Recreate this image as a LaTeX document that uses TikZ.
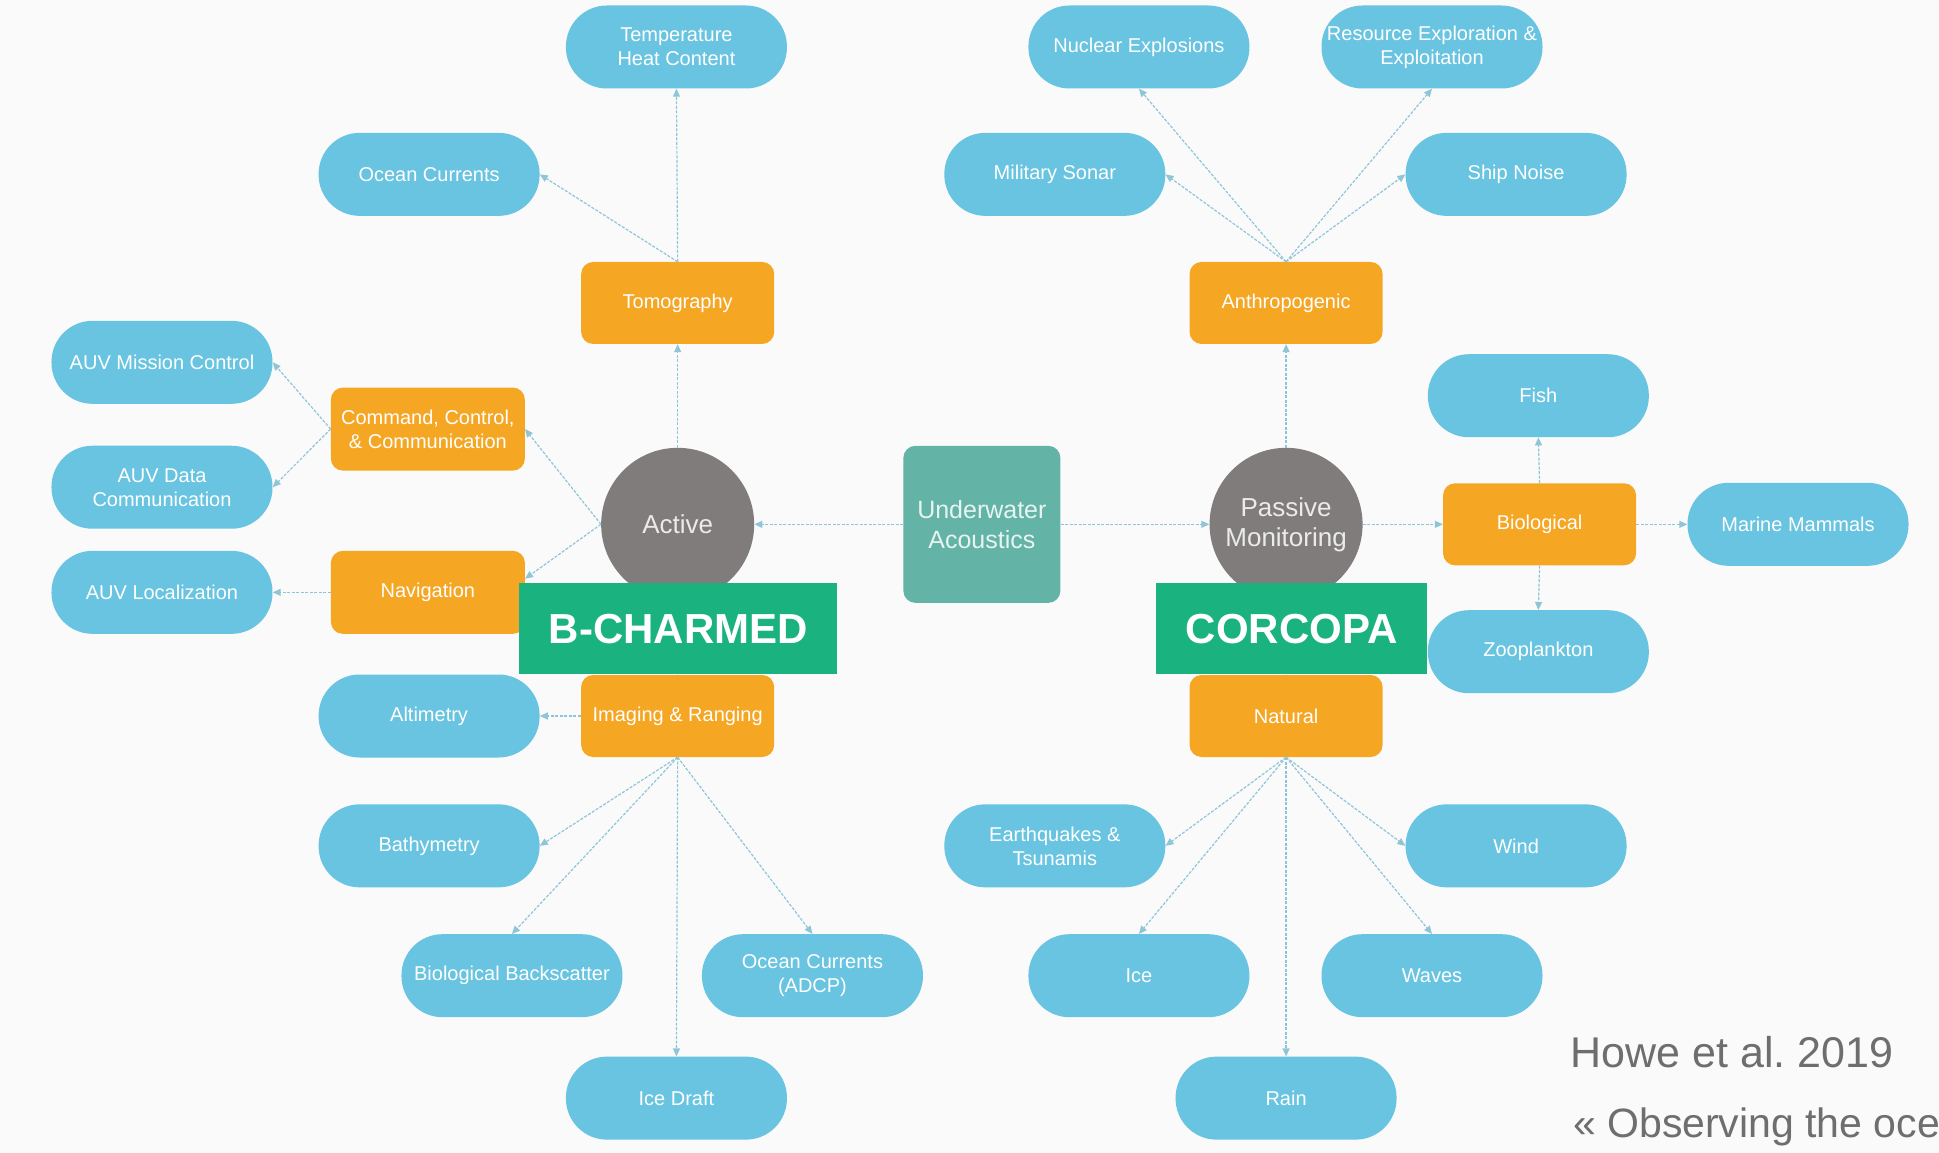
\documentclass[tikz,border=0pt]{standalone}
\usepackage{fontspec}
\setmainfont{Liberation Sans}
\usetikzlibrary{arrows.meta}
\frenchspacing
\definecolor{bgc}{HTML}{FAFAFA}
\definecolor{pillblue}{HTML}{68C4E0}
\definecolor{orangec}{HTML}{F5A623}
\definecolor{greyc}{HTML}{807C7C}
\definecolor{tealc}{HTML}{63B4A6}
\definecolor{greenc}{HTML}{1AB27E}
\definecolor{linec}{HTML}{8EC6D8}
\definecolor{refgrey}{HTML}{6E6E6E}
\tikzset{
  pill/.style={fill=pillblue, rounded corners=41pt, minimum width=221pt, minimum height=83pt,
    text=white, font=\fontsize{20}{24}\selectfont, align=center, inner sep=1pt},
  obox/.style={fill=orangec, rounded corners=12pt, minimum width=193pt, minimum height=82pt,
    text=white, font=\fontsize{20}{24}\selectfont, align=center, inner sep=1pt},
  gcirc/.style={circle, fill=greyc, minimum size=153pt, inner sep=0pt,
    text=white!92!black, font=\fontsize{26}{30}\selectfont, align=center},
  tbox/.style={fill=tealc, rounded corners=12pt, minimum width=157pt, minimum height=157pt,
    text=white!85!tealc, font=\fontsize{25}{30}\selectfont, align=center, inner sep=0pt},
  glabel/.style={fill=greenc, text=white, font=\fontsize{42}{50}\selectfont\bfseries,
    minimum height=91pt, inner sep=0pt},
  conn/.style={draw=linec, line width=1.2pt, dash pattern=on 3pt off 1.5pt,
    -{Triangle[length=8pt,width=7pt]}},
  reftext/.style={text=refgrey, font=\fontsize{43}{50}\selectfont, inner sep=0pt, anchor=base west}
}
\begin{document}
\begin{tikzpicture}[x=1.2366pt, y=-1.2366pt]
\useasboundingbox (0,0) rectangle (1568,932);
\fill[bgc] (0,0) rectangle (1568,932);
\begin{scope}
\clip (0,0) rectangle (1568,932);
% centre nodes
\node[tbox] (ua) at (794,424) {Underwater\\Acoustics};
\node[gcirc] (act) at (548,424) {Active};
\node[gcirc] (pas) at (1040,424) {Passive\\Monitoring};
% active branch
\node[obox] (tomo) at (548,245) {Tomography};
\node[obox, minimum width=194pt, minimum height=83pt] (ccc) at (346,347) {Command, Control,\\\& Communication};
\node[obox, minimum width=194pt, minimum height=83pt] (nav) at (346,479) {Navigation};
\node[obox] (img) at (548,579) {Imaging \& Ranging};
\node[pill] (temp) at (547,38) {Temperature\\Heat Content};
\node[pill] (ocur) at (347,141) {Ocean Currents};
\node[pill] (auvmc) at (131,293) {AUV Mission Control};
\node[pill] (auvdc) at (131,394) {AUV Data\\Communication};
\node[pill] (auvloc) at (131,479) {AUV Localization};
\node[pill] (alt) at (347,579) {Altimetry};
\node[pill] (bathy) at (347,684) {Bathymetry};
\node[pill] (bio) at (414,789) {Biological Backscatter};
\node[pill] (adcp) at (657,789) {Ocean Currents\\(ADCP)};
\node[pill] (icedraft) at (547,888) {Ice Draft};
% passive branch
\node[obox] (anth) at (1040,245) {Anthropogenic};
\node[obox] (biol) at (1245,424) {Biological};
\node[obox] (nat) at (1040,579) {Natural};
\node[pill] (nuc) at (921,38) {Nuclear Explosions};
\node[pill] (res) at (1158,38) {Resource Exploration \&\\Exploitation};
\node[pill] (mil) at (853,141) {Military Sonar};
\node[pill] (ship) at (1226,141) {Ship Noise};
\node[pill] (fish) at (1244,320) {Fish};
\node[pill] (mam) at (1454,424) {Marine Mammals};
\node[pill] (zoo) at (1244,527) {Zooplankton};
\node[pill] (eq) at (853,684) {Earthquakes \&\\Tsunamis};
\node[pill] (wind) at (1226,684) {Wind};
\node[pill] (ice) at (921,789) {Ice};
\node[pill] (waves) at (1158,789) {Waves};
\node[pill] (rain) at (1040,888) {Rain};
% connectors
\draw[conn] (ua.west) -- (act.east);
\draw[conn] (ua.east) -- (pas.west);
\draw[conn] (act.north) -- (tomo.south);
\draw[conn] (act.west) -- (ccc.east);
\draw[conn] (act.west) -- (nav.8);
\draw[conn] (act.south) -- (img.north);
\draw[conn] (tomo.north) -- (temp.south);
\draw[conn] (tomo.north) -- (ocur.east);
\draw[conn] (ccc.west) -- (auvmc.east);
\draw[conn] (ccc.west) -- (auvdc.east);
\draw[conn] (nav.west) -- (auvloc.east);
\draw[conn] (img.west) -- (alt.east);
\draw[conn] (img.south) -- (bathy.east);
\draw[conn] (img.south) -- (bio.north);
\draw[conn] (img.south) -- (icedraft.north);
\draw[conn] (img.south) -- (adcp.north);
\draw[conn] (pas.north) -- (anth.south);
\draw[conn] (pas.east) -- (biol.west);
\draw[conn] (pas.south) -- (nat.north);
\draw[conn] (anth.north) -- (nuc.south);
\draw[conn] (anth.north) -- (res.south);
\draw[conn] (anth.north) -- (mil.east);
\draw[conn] (anth.north) -- (ship.west);
\draw[conn] (biol.north) -- (fish.south);
\draw[conn] (biol.south) -- (zoo.north);
\draw[conn] (biol.east) -- (mam.west);
\draw[conn] (nat.south) -- (eq.east);
\draw[conn] (nat.south) -- (ice.north);
\draw[conn] (nat.south) -- (rain.north);
\draw[conn] (nat.south) -- (waves.north);
\draw[conn] (nat.south) -- (wind.west);
% project labels
\node[glabel, minimum width=318pt] (bch) at (548.5,508.5) {B-CHARMED};
\node[glabel, minimum width=271pt] (corc) at (1044.5,508.5) {CORCOPA};
% reference
\node[reftext] (howe) at (1270,863) {Howe et al. 2019};
\node[reftext, font=\fontsize{41}{50}\selectfont] (obs) at (1272,920) {« Observing the oce};
\end{scope}
\end{tikzpicture}
\end{document}
